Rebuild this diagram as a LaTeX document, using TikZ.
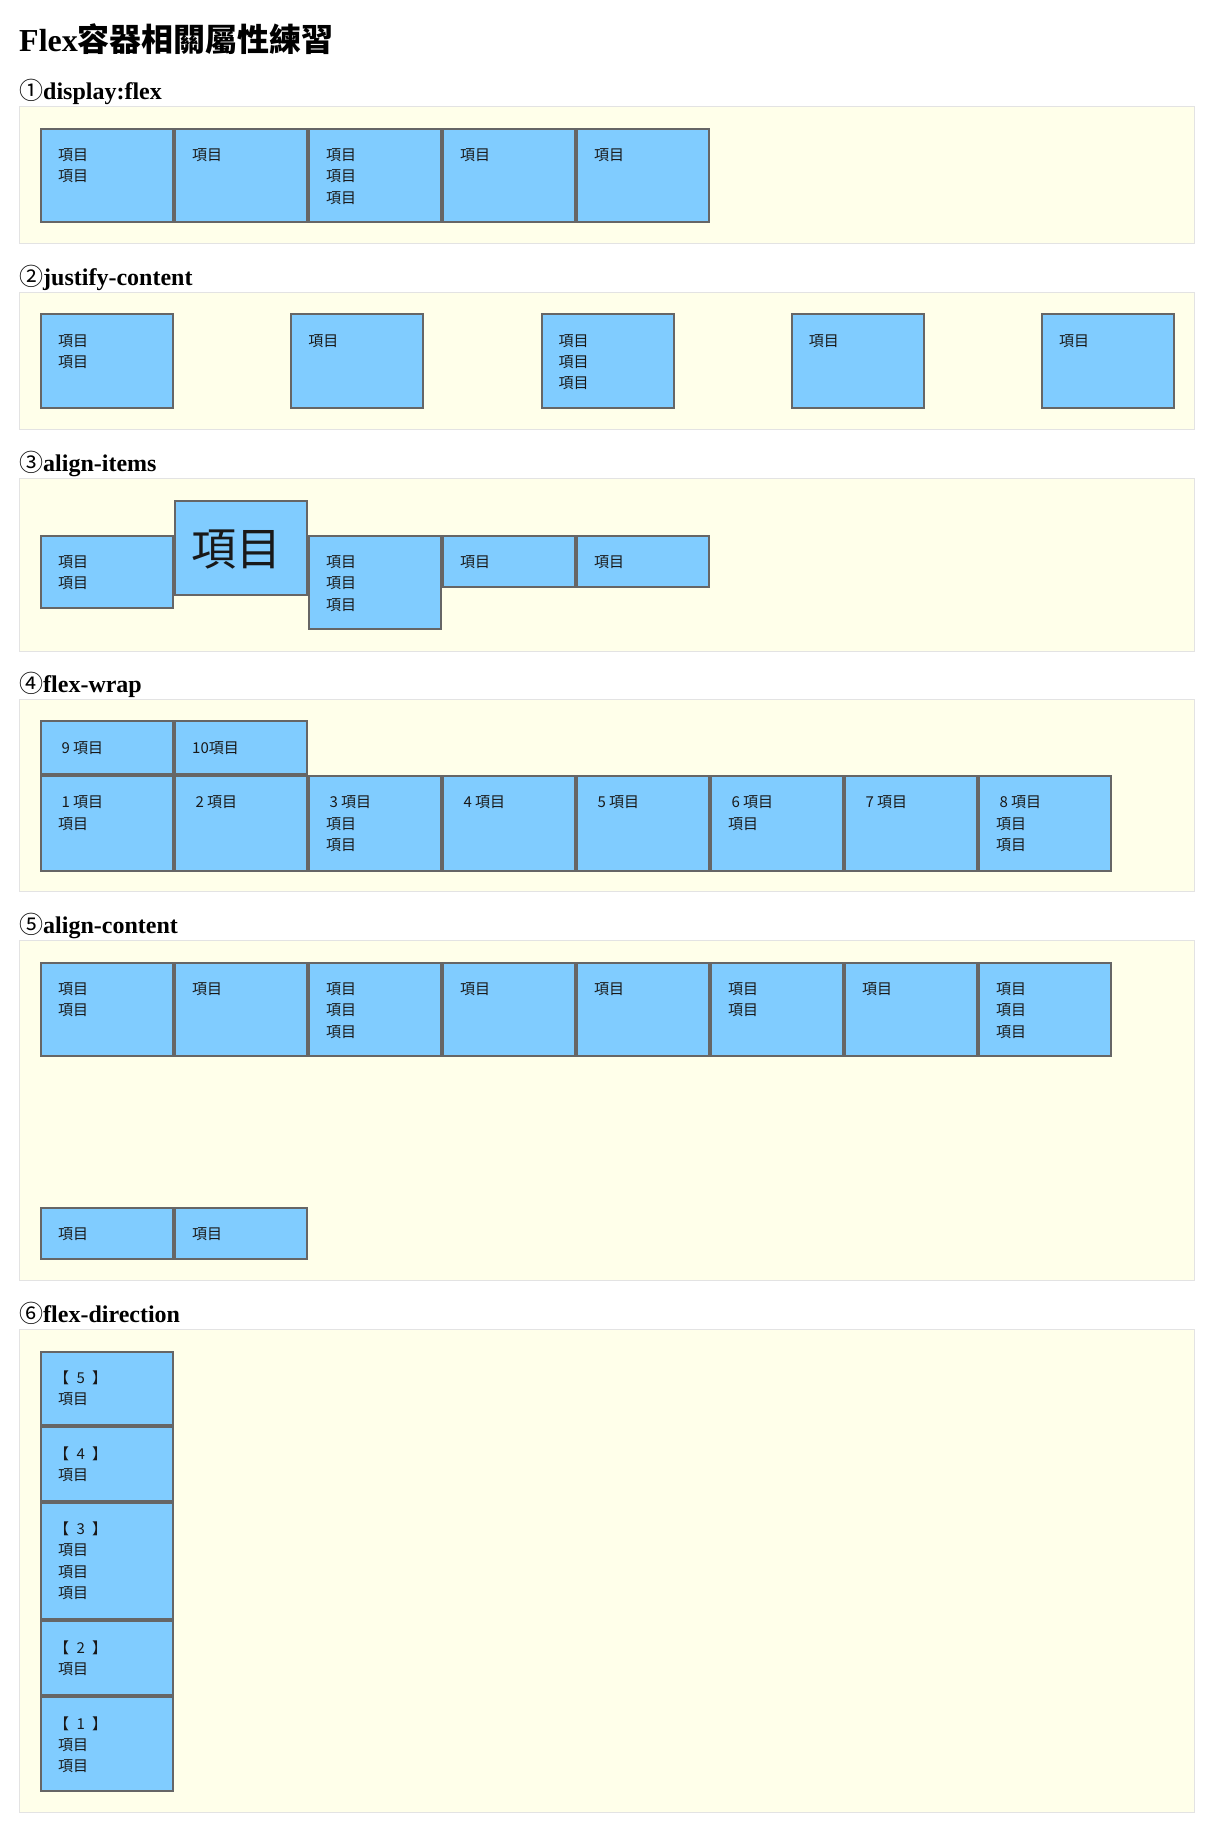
\documentclass[tikz,border=0pt]{standalone}
\usepackage{fontspec}
\setmainfont{Liberation Serif}
\newfontfamily\cjk{Noto Sans CJK TC}
\usetikzlibrary{calc}
\definecolor{itemfill}{HTML}{80CCFF}
\definecolor{itemline}{HTML}{666666}
\definecolor{boxfill}{HTML}{FFFFEA}
\definecolor{boxline}{HTML}{E3E3E3}
\tikzset{
 itembox/.style={draw=itemline, fill=itemfill, line width=2pt, inner sep=0pt, outer sep=0pt, rectangle},
 itemtext/.style={font=\cjk\fontsize{15}{21.2}\selectfont, align=left, inner sep=0pt, anchor=north west, text=black!90},
 bigtext/.style={font=\cjk\fontsize{45}{60}\selectfont, inner sep=0pt, text=black!90},
 panel/.style={draw=boxline, fill=boxfill, line width=1pt, inner sep=0pt, outer sep=0pt, rectangle},
 heading/.style={font=\bfseries\fontsize{24}{28}\selectfont, anchor=base west, inner sep=0pt},
 titletext/.style={font=\bfseries\fontsize{32}{38}\selectfont, anchor=base west, inner sep=0pt},
}
\newcommand\flexitem[6]{%
 \node[itembox, minimum width={#4-#2-2}, minimum height={#5-#3-2}] (#1) at ({(#2+#4)/2},{(#3+#5)/2}) {};
 \node[itemtext] (#1-t) at ($(#1.north west)+(17,18.8)$) {\rule{0pt}{13pt}#6};
}
\newcommand\flexpanel[3]{%
 \node[panel, minimum width=1175, minimum height={#3-#2-1}] (#1) at (607,{(#2+#3)/2}) {};
}
\newcommand\cn[1]{{\cjk\mdseries #1}}
\newcommand\fw[1]{\makebox[15pt][c]{#1}}
\newcommand\brk[1]{\makebox[15pt][c]{\hspace{-8pt}【}\fw{#1}\makebox[15pt][c]{】\hspace{-8pt}}}
\begin{document}
\begin{tikzpicture}[x=1pt,y=-1pt]
\fill[white] (0,0) rectangle (1211,1831);
\useasboundingbox (0,0) rectangle (1211,1831);

\node[titletext] (title) at (19,51.7) {Flex{\cjk 容器相關屬性練習}};

% 1 display:flex
\node[heading] (h1) at (19,99.6) {\cn{①}display:flex};
\flexpanel{p1}{106.3}{244.3}
\flexitem{a1}{40}{127.7}{174}{223.3}{項目\\項目}
\flexitem{a2}{174}{127.7}{308}{223.3}{項目}
\flexitem{a3}{308}{127.7}{442}{223.3}{項目\\項目\\項目}
\flexitem{a4}{442}{127.7}{576}{223.3}{項目}
\flexitem{a5}{576}{127.7}{710}{223.3}{項目}

% 2 justify-content
\node[heading] (h2) at (19,285.6) {\cn{②}justify-content};
\flexpanel{p2}{292.3}{430.3}
\flexitem{b1}{40}{313.3}{174}{409}{項目\\項目}
\flexitem{b2}{290.25}{313.3}{424.25}{409}{項目}
\flexitem{b3}{540.5}{313.3}{674.5}{409}{項目\\項目\\項目}
\flexitem{b4}{790.75}{313.3}{924.75}{409}{項目}
\flexitem{b5}{1041}{313.3}{1175}{409}{項目}

% 3 align-items
\node[heading] (h3) at (19,471.6) {\cn{③}align-items};
\flexpanel{p3}{478.3}{651.7}
\flexitem{c1}{40}{534.7}{174}{609}{項目\\項目}
\node[itembox, minimum width=132, minimum height=94.3] (c2) at (241,547.85) {};
\node[bigtext] (c2-t) at (236.5,549.5) {項目};
\flexitem{c3}{308}{534.7}{442}{630}{項目\\項目\\項目}
\flexitem{c4}{442}{534.7}{576}{588.2}{項目}
\flexitem{c5}{576}{534.7}{710}{588.2}{項目}

% 4 flex-wrap
\node[heading] (h4) at (19,692.6) {\cn{④}flex-wrap};
\flexpanel{p4}{699.3}{892.3}
\flexitem{d9}{40}{720.3}{174}{774.6}{\fw{9}項目}
\flexitem{d10}{174}{720.3}{308}{774.6}{10項目}
\flexitem{d1}{40}{774.8}{174}{871.5}{\fw{1}項目\\項目}
\flexitem{d2}{174}{774.8}{308}{871.5}{\fw{2}項目}
\flexitem{d3}{308}{774.8}{442}{871.5}{\fw{3}項目\\項目\\項目}
\flexitem{d4}{442}{774.8}{576}{871.5}{\fw{4}項目}
\flexitem{d5}{576}{774.8}{710}{871.5}{\fw{5}項目}
\flexitem{d6}{710}{774.8}{844}{871.5}{\fw{6}項目\\項目}
\flexitem{d7}{844}{774.8}{978}{871.5}{\fw{7}項目}
\flexitem{d8}{978}{774.8}{1112}{871.5}{\fw{8}項目\\項目\\項目}

% 5 align-content
\node[heading] (h5) at (19,933.6) {\cn{⑤}align-content};
\flexpanel{p5}{940.3}{1281.3}
\flexitem{e1}{40}{961.7}{174}{1056.9}{項目\\項目}
\flexitem{e2}{174}{961.7}{308}{1056.9}{項目}
\flexitem{e3}{308}{961.7}{442}{1056.9}{項目\\項目\\項目}
\flexitem{e4}{442}{961.7}{576}{1056.9}{項目}
\flexitem{e5}{576}{961.7}{710}{1056.9}{項目}
\flexitem{e6}{710}{961.7}{844}{1056.9}{項目\\項目}
\flexitem{e7}{844}{961.7}{978}{1056.9}{項目}
\flexitem{e8}{978}{961.7}{1112}{1056.9}{項目\\項目\\項目}
\flexitem{e9}{40}{1206.7}{174}{1260.3}{項目}
\flexitem{e10}{174}{1206.7}{308}{1260.3}{項目}

% 6 flex-direction
\node[heading] (h6) at (19,1322.6) {\cn{⑥}flex-direction};
\flexpanel{p6}{1329.3}{1812.7}
\flexitem{f5}{40}{1350.7}{174}{1426}{\brk{5}\\項目}
\flexitem{f4}{40}{1426}{174}{1501.7}{\brk{4}\\項目}
\flexitem{f3}{40}{1501.7}{174}{1620}{\brk{3}\\項目\\項目\\項目}
\flexitem{f2}{40}{1620}{174}{1696}{\brk{2}\\項目}
\flexitem{f1}{40}{1696}{174}{1792.3}{\brk{1}\\項目\\項目}
\end{tikzpicture}
\end{document}
